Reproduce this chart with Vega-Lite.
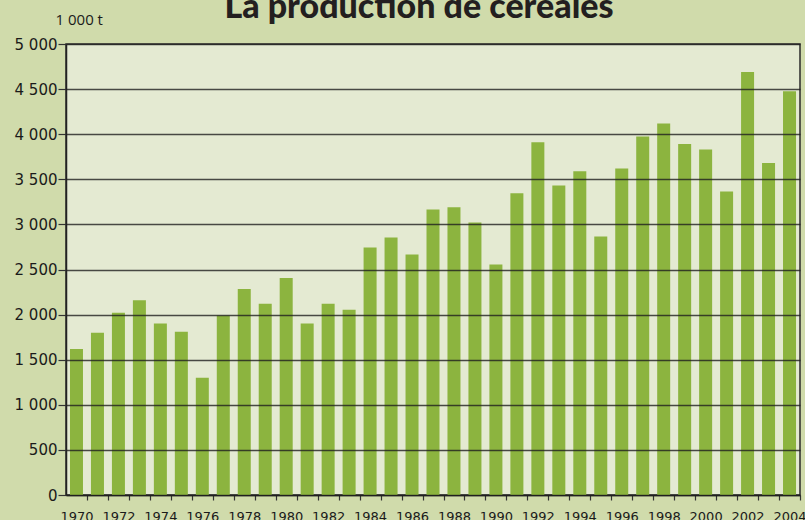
{
  "$schema": "https://vega.github.io/schema/vega-lite/v6.json",
  "width": 734,
  "height": 451,
  "autosize": {"type": "none"},
  "padding": {"left": 66, "top": 44, "right": 5, "bottom": 25},
  "background": "#d0dbab",
  "config": {
    "view": {"fill": "#e4ead2", "stroke": "#2b2b2b", "strokeWidth": 1.5},
    "font": "DejaVu Sans"
  },
  "title": {
    "text": "La production de céréales",
    "font": "Lato",
    "fontWeight": 900,
    "fontSize": 34,
    "color": "#231f20",
    "anchor": "middle",
    "baseline": "alphabetic",
    "offset": 0,
    "dy": 40,
    "dx": -14
  },
  "data": {
    "values": [
      {"annee": 1970, "production": 1620},
      {"annee": 1971, "production": 1800},
      {"annee": 1972, "production": 2020},
      {"annee": 1973, "production": 2160},
      {"annee": 1974, "production": 1900},
      {"annee": 1975, "production": 1810},
      {"annee": 1976, "production": 1300},
      {"annee": 1977, "production": 1990},
      {"annee": 1978, "production": 2285},
      {"annee": 1979, "production": 2120},
      {"annee": 1980, "production": 2405},
      {"annee": 1981, "production": 1900},
      {"annee": 1982, "production": 2120},
      {"annee": 1983, "production": 2055},
      {"annee": 1984, "production": 2745},
      {"annee": 1985, "production": 2855},
      {"annee": 1986, "production": 2665},
      {"annee": 1987, "production": 3165},
      {"annee": 1988, "production": 3190},
      {"annee": 1989, "production": 3020},
      {"annee": 1990, "production": 2555},
      {"annee": 1991, "production": 3345},
      {"annee": 1992, "production": 3910},
      {"annee": 1993, "production": 3430},
      {"annee": 1994, "production": 3590},
      {"annee": 1995, "production": 2865},
      {"annee": 1996, "production": 3620},
      {"annee": 1997, "production": 3975},
      {"annee": 1998, "production": 4120},
      {"annee": 1999, "production": 3890},
      {"annee": 2000, "production": 3830},
      {"annee": 2001, "production": 3365},
      {"annee": 2002, "production": 4690},
      {"annee": 2003, "production": 3680},
      {"annee": 2004, "production": 4475}
    ]
  },
  "mark": {"type": "bar", "color": "#8cb43f"},
  "encoding": {
    "x": {
      "field": "annee",
      "type": "ordinal",
      "scale": {"paddingInner": 0.38, "paddingOuter": 0.19},
      "axis": {
        "title": null,
        "labelAngle": 0,
        "tickOffset": 10.5,
        "labelOffset": -10.5,
        "labelExpr": "datum.value % 2 == 0 ? datum.label : ''",
        "tickSize": 5,
        "tickColor": "#333333",
        "tickWidth": 1.2,
        "domainColor": "#222222",
        "domainWidth": 1.5,
        "labelPadding": 20,
        "labelBaseline": "alphabetic",
        "labelFont": "DejaVu Sans",
        "labelFontSize": 13,
        "labelColor": "#1a1a1a",
        "labelOverlap": false
      }
    },
    "y": {
      "field": "production",
      "type": "quantitative",
      "scale": {"domain": [0, 5000]},
      "axis": {
        "values": [0, 500, 1000, 1500, 2000, 2500, 3000, 3500, 4000, 4500, 5000],
        "labelExpr": "replace(format(datum.value, ','), ',', ' ')",
        "title": "1 000 t",
        "titleAngle": 0,
        "titleAlign": "left",
        "titleBaseline": "alphabetic",
        "titleX": -11,
        "titleY": -20,
        "titleFont": "Open Sans",
        "titleFontSize": 15,
        "titleFontWeight": "normal",
        "titleColor": "#1a1a1a",
        "tickSize": 8,
        "tickColor": "#333333",
        "tickWidth": 1.2,
        "domainColor": "#222222",
        "domainWidth": 1.5,
        "labelPadding": 1,
        "labelFont": "DejaVu Sans",
        "labelFontSize": 15,
        "labelColor": "#1a1a1a",
        "grid": true,
        "gridColor": "#1f1f1f",
        "gridWidth": 1.3,
        "gridOpacity": 0.8,
        "zindex": 1
      }
    }
  }
}
